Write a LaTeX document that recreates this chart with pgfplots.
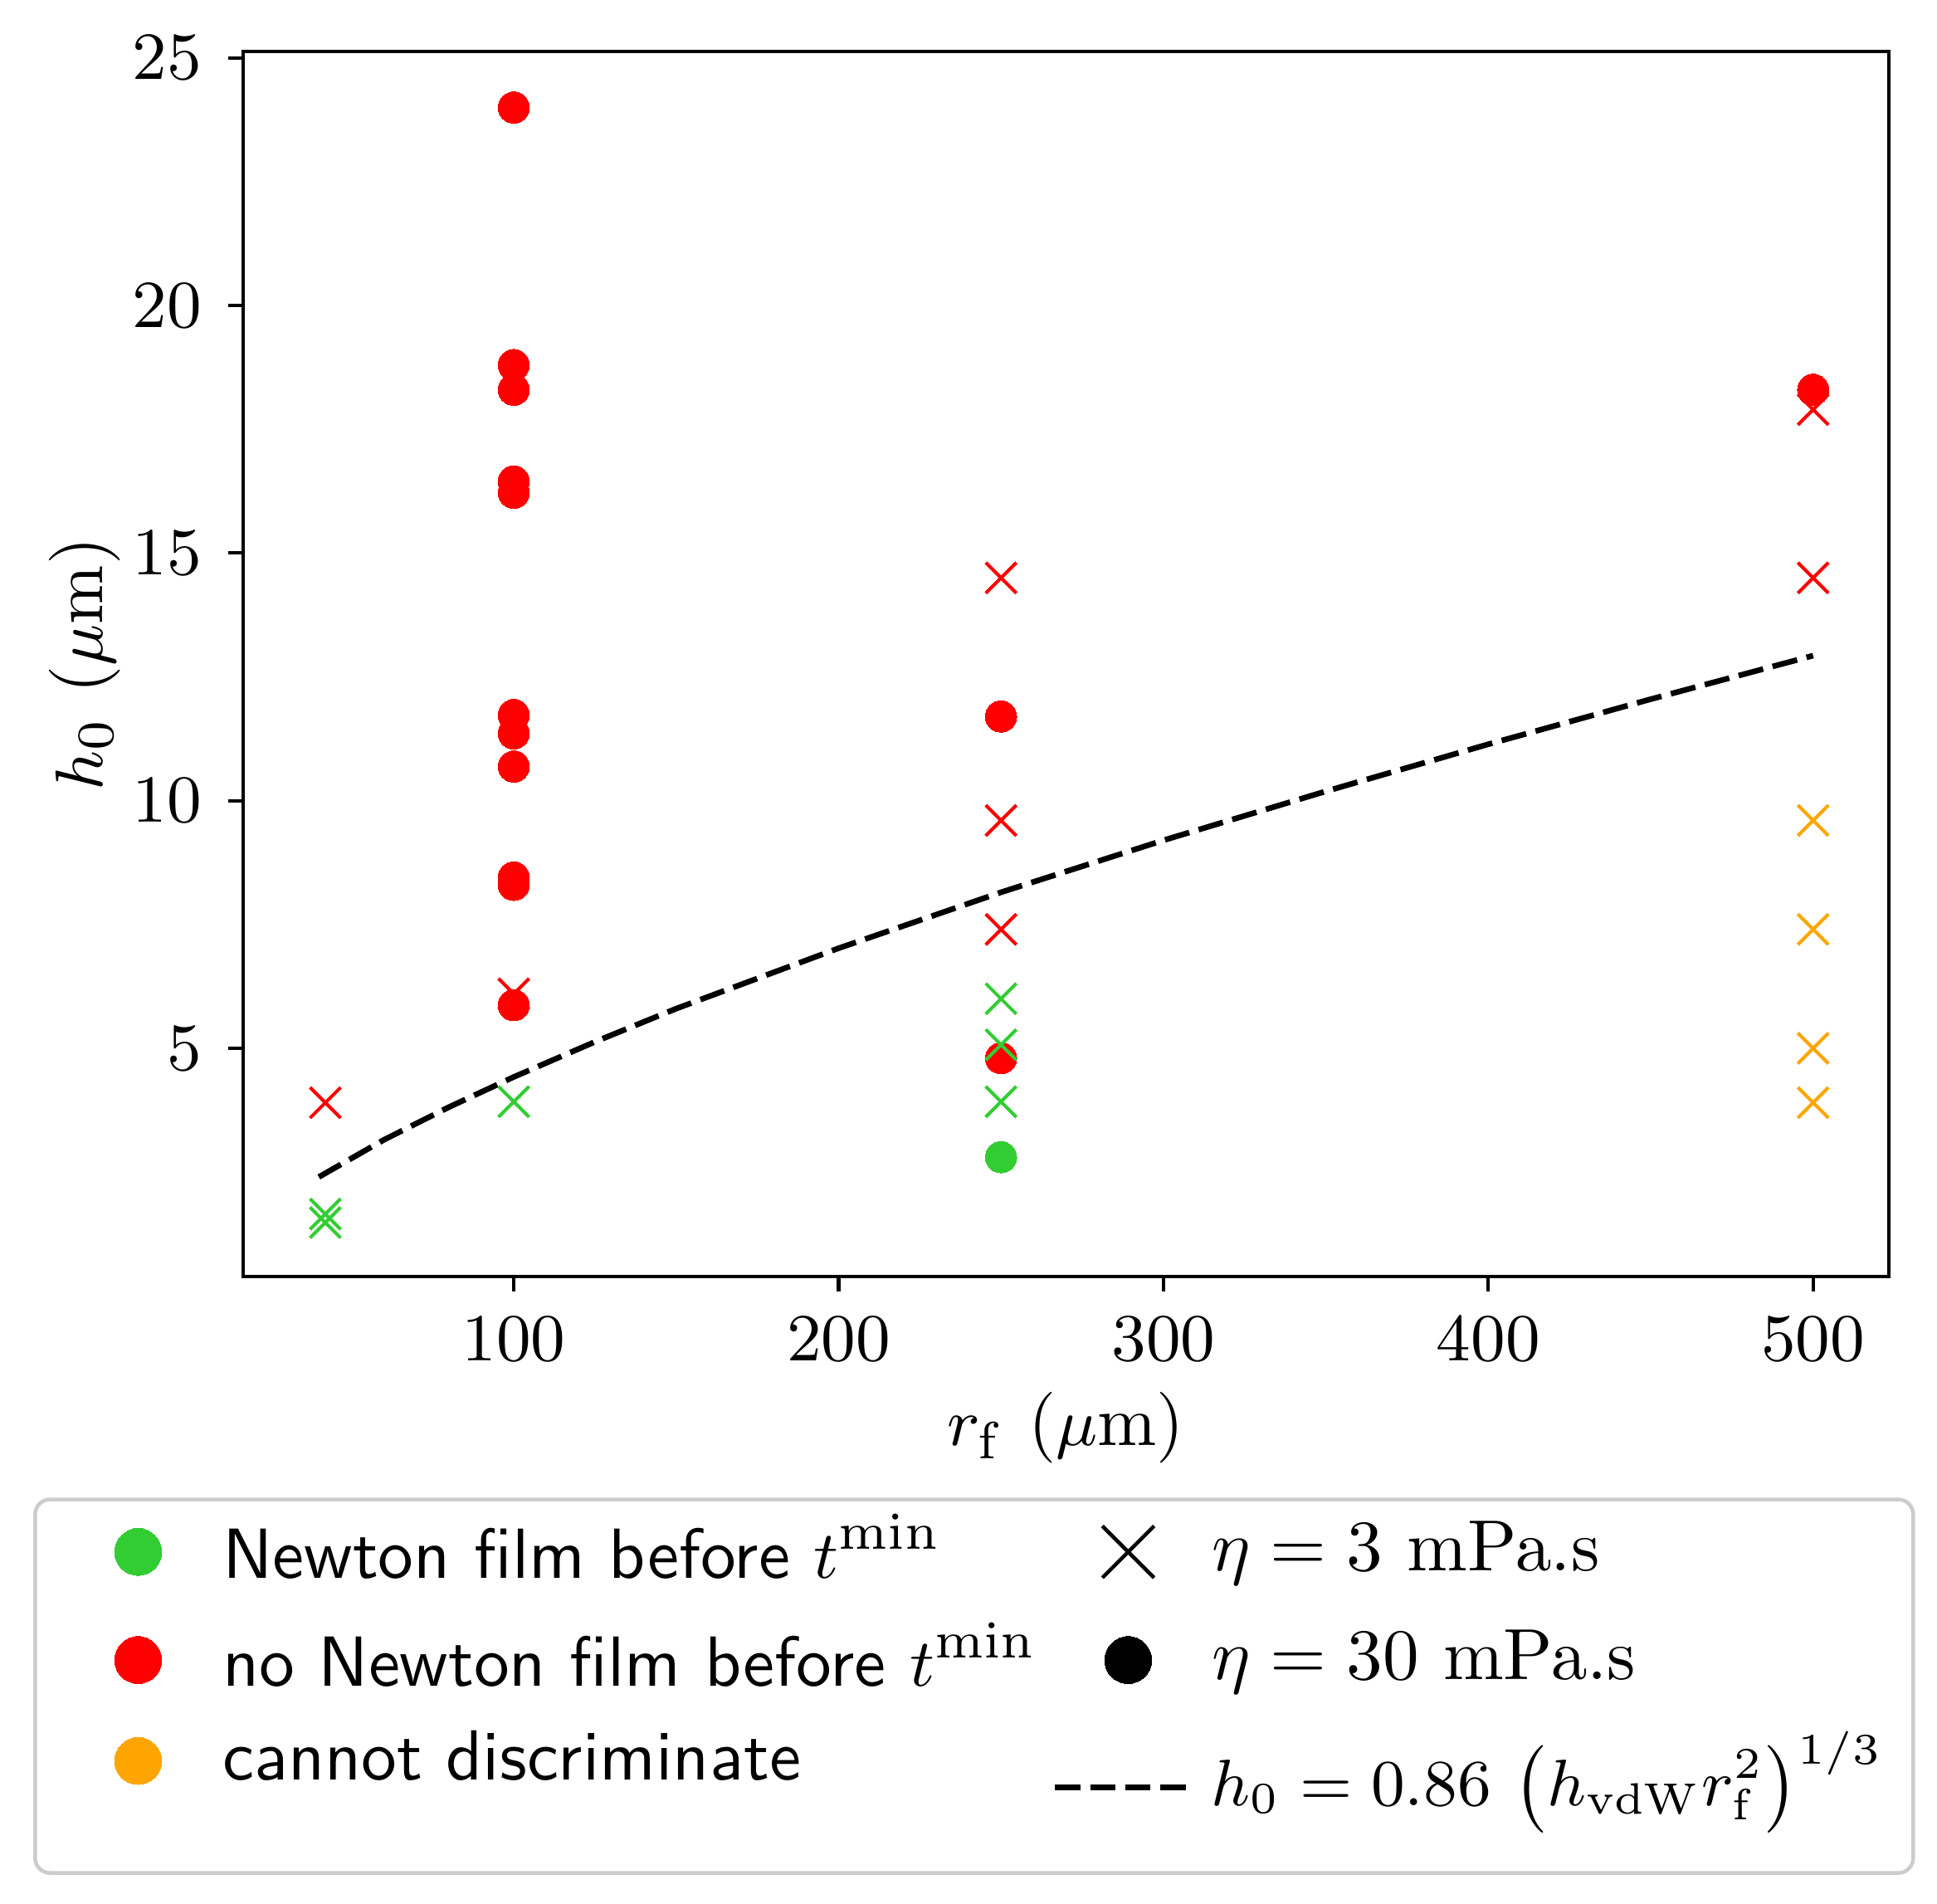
\documentclass[border=0pt]{standalone}
\usepackage{graphicx}
\usepackage{pgfplots}
\pgfplotsset{compat=1.18}
\definecolor{cgreen}{RGB}{50,205,50}
\definecolor{cred}{RGB}{255,0,0}
\definecolor{corange}{RGB}{255,165,0}
\definecolor{cframe}{RGB}{204,204,204}
\pgfplotsset{
  legmark/.style={legend image code/.code={%
      \path[draw=none,fill=none] (-2.5pt,0pt) (18.6pt,0pt);
      \draw[##1] plot coordinates {(9.3pt,0pt)};}},
  legmarkb/.style={legend image code/.code={%
      \path[draw=none,fill=none] (0pt,0pt) (17.8pt,0pt);
      \draw[##1] plot coordinates {(9.0pt,0pt)};}},
  legline/.style={legend image code/.code={%
      \path[draw=none,fill=none] (0pt,0pt) (17.8pt,0pt);
      \draw[##1] (-0.8pt,0pt) -- (17.8pt,0pt);}},
}
\begin{document}
\begin{tikzpicture}
\useasboundingbox (-32.56pt,-84pt) rectangle (226.8pt,170.9pt);
\begin{axis}[
  scale only axis, width=220.3pt, height=164pt,
  xmin=16.7, xmax=523.2, ymin=0.39, ymax=25.13,
  xtick={100,200,300,400,500}, ytick={5,10,15,20,25},
  tick align=outside, tick pos=left, major tick length=2pt,
  axis line style={line width=0.45pt},
  every tick/.style={black, line width=0.45pt},
  tick label style={font=\fontsize{9.5}{11.4}\selectfont},
  label style={font=\fontsize{9.5}{11.4}\selectfont},
  xlabel={$r_{\mathrm{f}}$ ($\mu$m)},
  ylabel={$h_0$ ($\mu$m)},
  xlabel style={yshift=2.7pt},
  ylabel shift=-5.2pt,
  legend columns=2, legend cell align=left,
  legend style={at={(-0.1276,-0.1805)}, anchor=north west,
    font=\fontsize{10}{12}\selectfont,
    draw=cframe, rounded corners=2pt, line width=0.5pt,
    row sep=0.45pt, inner xsep=2pt, inner ysep=0pt,
    /tikz/every even column/.append style={column sep=0pt}},
]
% red crosses (eta = 3, no Newton film)
\addplot[only marks, mark=x, mark size=2.9pt, cred, mark options={line width=0.45pt}, forget plot]
  coordinates {(42,3.9) (100,6.1) (250,14.5) (250,9.6) (250,7.4) (500,17.9) (500,14.5)};
% red circles (eta = 30, no Newton film)
\addplot[only marks, mark=*, mark size=2.1pt, cred, mark options={line width=0pt}, forget plot]
  coordinates {(100,24.0) (100,18.8) (100,18.3) (100,16.45) (100,16.22) (100,11.73) (100,11.36)
    (100,10.69) (100,8.45) (100,8.3) (100,5.87) (250,11.7) (250,4.8) (500,18.3)};
% orange crosses
\addplot[only marks, mark=x, mark size=2.9pt, corange, mark options={line width=0.45pt}, forget plot]
  coordinates {(500,9.6) (500,7.4) (500,5.0) (500,3.9)};
% green crosses
\addplot[only marks, mark=x, mark size=2.9pt, cgreen, mark options={line width=0.45pt}, forget plot]
  coordinates {(42,1.65) (42,1.48) (100,3.92) (250,6.0) (250,5.07) (250,3.92)};
% green circle
\addplot[only marks, mark=*, mark size=2.1pt, cgreen, mark options={line width=0pt}, forget plot]
  coordinates {(250,2.8)};
% fit line
\addplot[black, line width=0.75pt, dash pattern=on 3.4pt off 1.3pt, forget plot]
  coordinates {(40,2.40) (60,3.15) (80,3.81) (100,4.42) (125,5.13) (150,5.80) (200,7.02)
    (250,8.15) (300,9.20) (350,10.19) (400,11.14) (450,12.05) (500,12.93)};
% legend
\addlegendimage{legmark, only marks, mark=*, mark size=3.15pt, cgreen, mark options={line width=0pt}}
\addlegendentry{\fontsize{9.5}{11.4}\selectfont\sffamily Newton film before $t^{\mathrm{min}}$}
\addlegendimage{legmarkb, only marks, mark=x, mark size=4.9pt, black, mark options={line width=0.5pt}}
\addlegendentry{\scalebox{0.97}{$\eta = 3~\mathrm{mPa.s}$}}
\addlegendimage{legmark, only marks, mark=*, mark size=3.15pt, cred, mark options={line width=0pt}}
\addlegendentry{\fontsize{9.5}{11.4}\selectfont\sffamily no Newton film before $t^{\mathrm{min}}$}
\addlegendimage{legmarkb, only marks, mark=*, mark size=3.15pt, black, mark options={line width=0pt}}
\addlegendentry{\scalebox{0.97}{$\eta = 30~\mathrm{mPa.s}$}}
\addlegendimage{legmark, only marks, mark=*, mark size=3.15pt, corange, mark options={line width=0pt}}
\addlegendentry{\fontsize{9.5}{11.4}\selectfont\sffamily cannot discriminate}
\addlegendimage{legline, black, line width=0.75pt, dash pattern=on 3.4pt off 1.3pt, yshift=-3.5pt}
\addlegendentry{\fontsize{9}{11}\selectfont\raisebox{-3.5pt}{\scalebox{0.978}{$h_0 = 0.86\,\left(h_{\mathrm{vdW}} r_{\mathrm{f}}^2\right)^{1/3}$}}}
\addlegendimage{empty legend}
\addlegendentry{\rule{0pt}{3pt}}
\end{axis}
\end{tikzpicture}
\end{document}
